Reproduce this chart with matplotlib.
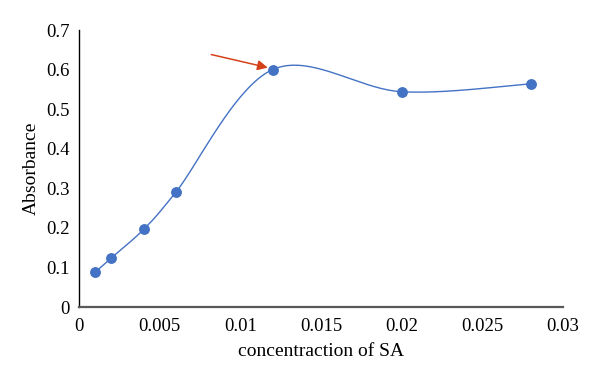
import numpy as np
import matplotlib.pyplot as plt

# >>>>>>>>>>>>> data <<<<<<<<<<<<< #
conc_SA = [0.001, 0.002, 0.004, 0.006, 0.012, 0.020, 0.028]
absorbance = [0.088, 0.124, 0.196, 0.290, 0.600, 0.544, 0.564]

x_ticks = [0, 0.005, 0.01, 0.015, 0.02, 0.025, 0.03]
x_ticklabels = ['0', '0.005', '0.01', '0.015', '0.02', '0.025', '0.03']
y_ticks = [0, 0.1, 0.2, 0.3, 0.4, 0.5, 0.6, 0.7]
y_ticklabels = ['0', '0.1', '0.2', '0.3', '0.4', '0.5', '0.6', '0.7']


def smooth_line(xs, ys, n=40):
    # excel-like smoothed line (catmull-rom through the points)
    px = np.array(xs, dtype=float)
    py = np.array(ys, dtype=float)
    px = np.concatenate([[px[0]], px, [px[-1]]])
    py = np.concatenate([[py[0]], py, [py[-1]]])
    outx, outy = [], []
    t = np.linspace(0, 1, n)
    for i in range(1, len(px) - 2):
        p0x, p1x, p2x, p3x = px[i-1], px[i], px[i+1], px[i+2]
        p0y, p1y, p2y, p3y = py[i-1], py[i], py[i+1], py[i+2]
        c1x = p1x + (p2x - p0x) / 6.0
        c1y = p1y + (p2y - p0y) / 6.0
        c2x = p2x - (p3x - p1x) / 6.0
        c2y = p2y - (p3y - p1y) / 6.0
        bx = (1-t)**3*p1x + 3*(1-t)**2*t*c1x + 3*(1-t)*t**2*c2x + t**3*p2x
        by = (1-t)**3*p1y + 3*(1-t)**2*t*c1y + 3*(1-t)*t**2*c2y + t**3*p2y
        outx.extend(bx)
        outy.extend(by)
    return outx, outy


plt.rcParams['font.family'] = ['Liberation Serif', 'DejaVu Serif']

fig, ax = plt.subplots(figsize=(6, 3.78), dpi=100)
fig.subplots_adjust(left=0.1317, right=0.9383, bottom=0.1878, top=0.9206)

sx, sy = smooth_line(conc_SA, absorbance)
ax.plot(sx, sy, color='#4472C4', linewidth=1.0, zorder=2)
ax.plot(conc_SA, absorbance, linestyle='none', marker='o', markersize=6.8,
        color='#4472C4', zorder=3)

# red arrow pointing at the 0.012 point
ax.annotate('', xy=(conc_SA[4] - 0.0003, absorbance[4] + 0.005),
            xytext=(0.0082, 0.638),
            arrowprops=dict(arrowstyle='-|>', color='#D5421A', lw=1.1,
                            mutation_scale=15, shrinkA=0, shrinkB=0))

ax.set_xlim(0, 0.03)
ax.set_ylim(0, 0.7)
ax.set_xticks(x_ticks)
ax.set_xticklabels(x_ticklabels)
ax.set_yticks(y_ticks)
ax.set_yticklabels(y_ticklabels)
ax.tick_params(axis='both', length=0, labelsize=13.5)
ax.tick_params(axis='x', pad=8)
ax.tick_params(axis='y', pad=6.5)

ax.spines['top'].set_visible(False)
ax.spines['right'].set_visible(False)
ax.spines['left'].set_color('black')
ax.spines['left'].set_linewidth(1.0)
ax.spines['bottom'].set_color('#595959')
ax.spines['bottom'].set_linewidth(1.6)

ax.set_xlabel('concentraction of SA', fontsize=14, labelpad=6)
ax.set_ylabel('Absorbance', fontsize=14, labelpad=5)

fig.savefig('out.png', dpi=100)
